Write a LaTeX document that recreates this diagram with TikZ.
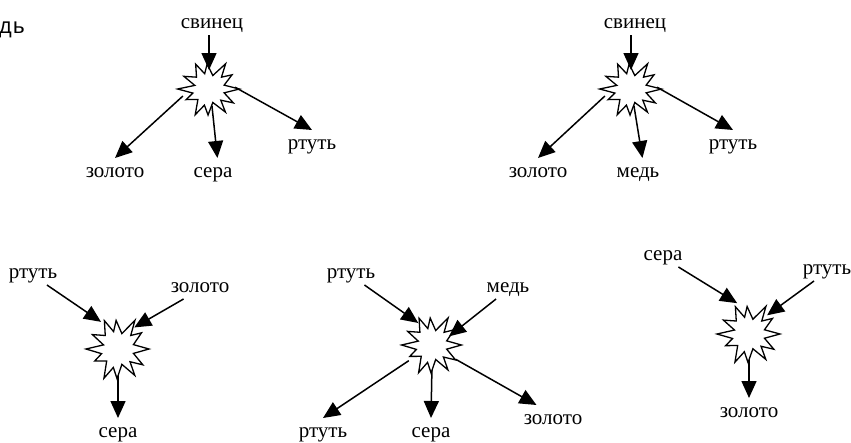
\documentclass[tikz,border=0pt]{standalone}
\usepackage{fontspec}
\setmainfont{Liberation Serif}
\newfontfamily\monof{Liberation Mono}
\usetikzlibrary{arrows.meta,calc}
\tikzset{
  lab/.style={font=\fontsize{21}{25}\selectfont, text height=9pt, text depth=4pt, inner sep=1pt, anchor=base},
  tgt/.style={lab, outer sep=9pt},
  src/.style={lab, outer sep=2pt},
  hub/.style={circle, minimum size=40pt, inner sep=0pt, draw=none},
  arr/.style={line width=1.5pt, -{Triangle[length=17pt,width=15pt]}},
  burstline/.style={line width=1.3pt, fill=white, line join=miter}
}
\newcommand{\drawburst}[3]{%
  \draw[burstline, shift={(#1)}, xscale=#2, yscale=#3]
    (0:31pt) -- (15:16pt) -- (33:28pt) -- (45:18pt) -- (58:32pt) -- (75:15pt)
    -- (94:27pt) -- (105:17pt) -- (117:30pt) -- (135:18pt) -- (152:29pt) -- (165:15pt)
    -- (180:32pt) -- (195:17pt) -- (206:26pt) -- (225:16pt) -- (243:31pt) -- (255:18pt)
    -- (268:28pt) -- (285:15pt) -- (304:30pt) -- (315:17pt) -- (329:29pt) -- (345:16pt) -- cycle;}
\begin{document}
\begin{tikzpicture}[x=1pt,y=-1pt]
\fill[white] (0,0) rectangle (851,442);
\useasboundingbox (0,0) rectangle (851,442);

% partial text at left edge
\node[anchor=base west, inner sep=0pt, font=\monof\fontsize{22}{26}\selectfont] (dtail) at (-1,33) {дь};

% hubs
\node[hub] (s1) at (209,89) {};
\node[hub] (s2) at (631,89) {};
\node[hub] (s3) at (118,349) {};
\node[hub] (s4) at (432,345) {};
\node[hub] (s5) at (749,334) {};

% labels
\node[src] (svinec1) at (212,28) {свинец};
\node[tgt] (zol1) at (115,177) {золото};
\node[tgt] (sera1) at (213,177) {сера};
\node[tgt] (rt1) at (312,149) {ртуть};

\node[src] (svinec2) at (635,28) {свинец};
\node[tgt] (zol2) at (538,177) {золото};
\node[tgt] (med2) at (638,177) {медь};
\node[tgt] (rt2) at (733,149) {ртуть};

\node[src] (rt3) at (33,278) {ртуть};
\node[src] (zol3) at (200,292) {золото};
\node[tgt] (sera3) at (118,437) {сера};

\node[src] (rt4) at (351,278) {ртуть};
\node[src] (med4) at (508,292) {медь};
\node[tgt] (rt4b) at (323,437) {ртуть};
\node[tgt] (sera4) at (431,437) {сера};
\node[tgt] (zol4) at (553,424) {золото};

\node[src] (sera5) at (663,260) {сера};
\node[src] (rt5) at (827,274) {ртуть};
\node[tgt] (zol5) at (749,417) {золото};

% outgoing arrows (drawn under the bursts)
\draw[arr] ($(s1)+(195:27pt)$) -- (zol1.north);
\draw[arr] ($(s1)+(280:17pt)$) -- (sera1.75);
\draw[arr] ($(s1)+(4:26pt)$) -- (rt1.north);

\draw[arr] ($(s2)+(195:27pt)$) -- (zol2.north);
\draw[arr] ($(s2)+(280:17pt)$) -- (med2.75);
\draw[arr] ($(s2)+(4:26pt)$) -- (rt2.north);

\draw[arr] ($(s3)+(270:18pt)$) -- (sera3.north);

\draw[arr] ($(s4)+(214:28pt)$) -- (rt4b.north);
\draw[arr] ($(s4)+(270:20pt)$) -- (sera4.north);
\draw[arr] ($(s4)+(329:28pt)$) -- (zol4.135);

\draw[arr] ($(s5)+(270:20pt)$) -- (zol5.north);

% bursts
\drawburst{s1}{0.98}{0.93}
\drawburst{s2}{0.98}{0.93}
\drawburst{s3}{1}{1.06}
\drawburst{s4}{0.95}{1.0}
\drawburst{s5}{1}{1.02}

% incoming arrows (drawn over the bursts)
\draw[arr] (svinec1.south -| s1) -- ($(s1)+(90:19pt)$);
\draw[arr] (svinec2.south -| s2) -- ($(s2)+(90:19pt)$);

\draw[arr] (rt3) -- ($(s3)+(122:32pt)$);
\draw[arr] (zol3) -- ($(s3)+(53:27pt)$);

\draw[arr] (rt4) -- ($(s4)+(122:26pt)$);
\draw[arr] (med4) -- ($(s4)+(27:19pt)$);

\draw[arr] (sera5) -- ($(s5)+(111:33pt)$);
\draw[arr] (rt5) -- ($(s5)+(46:26pt)$);
\end{tikzpicture}
\end{document}
